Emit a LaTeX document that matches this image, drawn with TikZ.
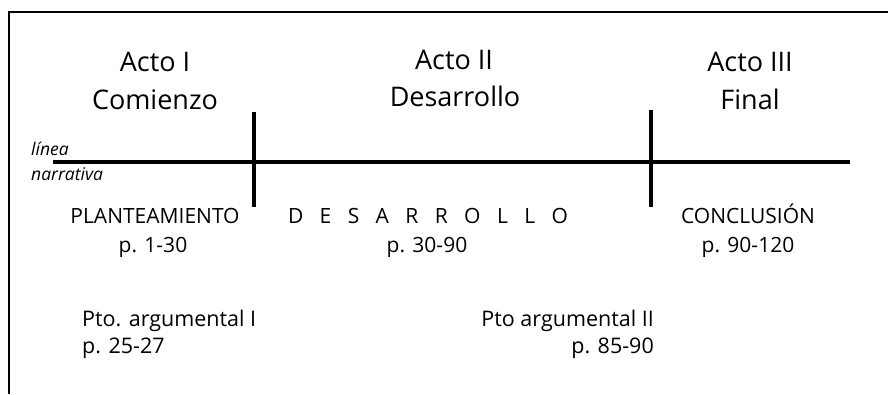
\documentclass[tikz,border=0pt]{standalone}
\usepackage{fontspec}
\setmainfont{Open Sans}
\begin{document}
\begin{tikzpicture}[x=1pt,y=-1pt,
  frame/.style={line width=2pt,black},
  thick line/.style={line width=4.5pt,black},
  acttext/.style={anchor=base,inner sep=0pt,font=\fontsize{27}{32}\selectfont},
  parttext/.style={anchor=base,inner sep=0pt,font=\fontsize{21}{25}\selectfont},
  ptotext/.style={anchor=base west,inner sep=0pt,font=\fontsize{21.5}{25}\selectfont},
  smalltext/.style={anchor=base west,inner sep=0pt,font=\fontsize{17.5}{20}\selectfont\itshape}]
\useasboundingbox (0,0) rectangle (888,394);
\fill[white] (0,0) rectangle (888,394);
% frame
\coordinate (ftr) at (888,12);
\coordinate (ftl) at (9,12);
\coordinate (fbl) at (9,394);
\draw[frame] (ftr) -- (ftl) -- (fbl);
% narrative line
\coordinate (ls) at (53,162);
\coordinate (le) at (850,162);
\draw[thick line] (ls) -- (le);
\coordinate (v1t) at (254,112);
\coordinate (v1b) at (254,207);
\coordinate (v2t) at (651,110);
\coordinate (v2b) at (651,207);
\draw[thick line] (v1t) -- (v1b);
\draw[thick line] (v2t) -- (v2b);
% titles
\node[acttext] (a1) at (155,71) {Acto I};
\node[acttext] (a1b) at (155,109) {Comienzo};
\node[acttext] (a2) at (454,69) {Acto II};
\node[acttext] (a2b) at (455,106) {Desarrollo};
\node[acttext] (a3) at (750,71) {Acto III};
\node[acttext] (a3b) at (750,109) {Final};
% line label
\node[smalltext] (l1) at (31,155) {línea};
\node[smalltext] (l2) at (31,180) {narrativa};
% parts
\node[parttext] (p1) at (155,223) {PLANTEAMIENTO};
\node[parttext] (p1b) at (153,252) {p. 1-30};
\node[parttext] (p2) at (428,223) {\makebox[280pt][s]{D\hfil E\hfil S\hfil A\hfil R\hfil R\hfil O\hfil L\hfil L\hfil O}};
\node[parttext] (p2b) at (427,252) {p. 30-90};
\node[parttext] (p3) at (748,223) {CONCLUSIÓN};
\node[parttext] (p3b) at (748,252) {p. 90-120};
% plot points
\node[ptotext] (q1) at (82,326) {Pto. argumental I};
\node[ptotext] (q1b) at (82,353) {p. 25-27};
\node[ptotext,anchor=base east] (q2) at (654,326) {Pto argumental II};
\node[ptotext,anchor=base east] (q2b) at (654,353) {p. 85-90};
\end{tikzpicture}
\end{document}
